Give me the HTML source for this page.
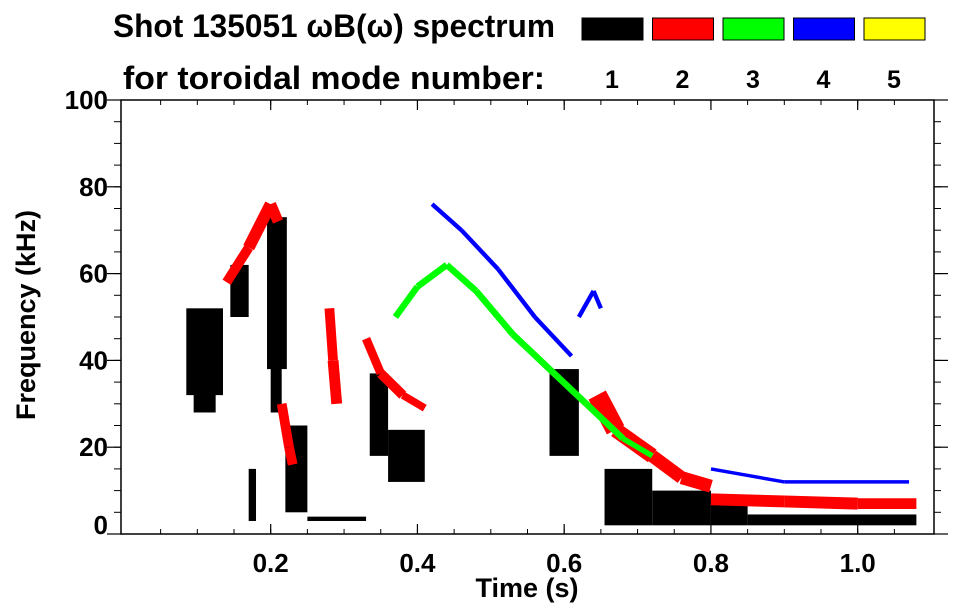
<!DOCTYPE html>
<html><head><meta charset="utf-8"><style>
body{margin:0;background:#fff;}
svg{display:block;font-family:"Liberation Sans",sans-serif;font-weight:bold;}
</style></head><body>
<svg id="c" width="963" height="615">
<text x="113" y="37" font-size="32" textLength="442" lengthAdjust="spacingAndGlyphs">Shot 135051 ωB(ω) spectrum</text>
<text x="123" y="89" font-size="32" textLength="422" lengthAdjust="spacingAndGlyphs">for toroidal mode number:</text>
<g id="legend"></g>
<g id="marks"></g>
<rect x="121" y="100" width="813" height="434" fill="none" stroke="#000" stroke-width="1.5"/>
<g id="axes"></g>
<text x="527" y="597" font-size="27" text-anchor="middle">Time (s)</text>
<text transform="translate(35,315) rotate(-90)" font-size="27" text-anchor="middle">Frequency (kHz)</text>
</svg>
<script>
const modeLabels=["1","2","3","4","5"];
const modeColors=["#000","#f00","#0f0","#00f","#ff0"];
const xTicks=[0.2,0.4,0.6,0.8,1.0];
const xTickLabels=["0.2","0.4","0.6","0.8","1.0"];
const yTicks=[0,20,40,60,80,100];
// mode-1 blobs: [t0, t1, f0, f1]
const mode1Blobs=[
 [0.085,0.135,32,52],[0.095,0.125,28,34],
 [0.145,0.17,50,62],[0.195,0.222,38,73],[0.2,0.215,28,40],
 [0.22,0.25,5,25],[0.17,0.18,3,15],[0.25,0.33,3,4],
 [0.335,0.36,18,37],[0.36,0.41,12,24],
 [0.58,0.62,18,38],
 [0.655,0.72,2,15],[0.72,0.8,2,10],[0.8,0.85,2,7],[0.85,1.08,2,4.5]
];
// tracks: [time, freq, thickness kHz]
const mode2Tracks=[
 [[0.14,58,2],[0.17,66,2.5],[0.2,76,3],[0.21,72,2]],
 [[0.215,30,2],[0.225,20,2.5],[0.23,16,2]],
 [[0.28,52,1.5],[0.285,40,3],[0.29,30,2]],
 [[0.33,45,1.5],[0.35,37,2.5],[0.38,32,2],[0.41,29,1.5]],
 [[0.645,32,5],[0.67,24,4],[0.72,18,3],[0.76,13,3],[0.8,11,3]],
 [[0.8,8,2.5],[0.9,7.5,3],[1.0,7,2.5],[1.08,7,2.5]]
];
const mode3Tracks=[
 [[0.37,50,1.5],[0.4,57,1.5],[0.44,62,1.5],[0.48,56,1.5],[0.53,46,1.5],[0.58,38,1.5],[0.63,30,1.5],[0.68,22,1.5],[0.72,18,1]]
];
const mode4Tracks=[
 [[0.42,76,1],[0.46,70,1],[0.51,61,1],[0.56,50,1],[0.61,41,1]],
 [[0.62,50,1],[0.64,56,1],[0.65,52,1]],
 [[0.8,15,0.8],[0.9,12,0.8],[1.07,12,0.8]]
];
const trackSets=[null,mode2Tracks,mode3Tracks,mode4Tracks];
const X0=121,X1=934,Y0=534,Y1=100,TMIN=-0.004,TMAX=1.104,FMIN=0,FMAX=100;
const xs=t=>X0+(t-TMIN)/(TMAX-TMIN)*(X1-X0);
const ys=f=>Y0-(f-FMIN)/(FMAX-FMIN)*(Y0-Y1);
const NS="http://www.w3.org/2000/svg";
function mk(tag,attrs,parent){const e=document.createElementNS(NS,tag);for(const k in attrs)e.setAttribute(k,attrs[k]);parent.appendChild(e);return e;}
const lg=document.getElementById('legend');
modeLabels.forEach((m,i)=>{
 const x=582+i*70.5;
 const r=mk('rect',{x:x,y:18,width:61,height:22,fill:modeColors[i],stroke:'#000','stroke-width':1},lg);
 
 
 const t=mk('text',{x:x+30,y:88,'font-size':25,'text-anchor':'middle'},lg);t.textContent=m;
 
 
});
const mg=document.getElementById('marks');
mode1Blobs.forEach(b=>{
 const r=mk('rect',{x:xs(b[0]),y:ys(b[3]),width:xs(b[1])-xs(b[0]),height:ys(b[2])-ys(b[3]),fill:'#000'},mg);
 
 
});
trackSets.forEach((tracks,mi)=>{
 if(!tracks)return;
 tracks.forEach((tr,ti)=>{
  for(let k=0;k<tr.length-1;k++){
   const a=tr[k],b=tr[k+1];
   const w=((a[2]+b[2])/2)*(Y0-Y1)/(FMAX-FMIN);
   const l=mk('line',{x1:xs(a[0]),y1:ys(a[1]),x2:xs(b[0]),y2:ys(b[1]),stroke:modeColors[mi],'stroke-width':w,'stroke-linecap':'butt'},mg);
   
   
  }
 });
});
const ax=document.getElementById('axes');
xTicks.forEach((t,i)=>{
 mk('line',{x1:xs(t),y1:Y0,x2:xs(t),y2:Y0-10,stroke:'#000','stroke-width':1.2},ax);
 mk('line',{x1:xs(t),y1:Y1,x2:xs(t),y2:Y1+10,stroke:'#000','stroke-width':1.2},ax);
 const tx=mk('text',{x:xs(t),y:572,'font-size':26,'text-anchor':'middle'},ax);tx.textContent=xTickLabels[i];
 
 
});
for(let t=0.05;t<1.1;t+=0.05){
 mk('line',{x1:xs(t),y1:Y0,x2:xs(t),y2:Y0-5,stroke:'#000'},ax);
 mk('line',{x1:xs(t),y1:Y1,x2:xs(t),y2:Y1+5,stroke:'#000'},ax);
}
yTicks.forEach(f=>{
 mk('line',{x1:X0,y1:ys(f),x2:X0-14,y2:ys(f),stroke:'#000','stroke-width':1.2},ax);
 mk('line',{x1:X1,y1:ys(f),x2:X1+14,y2:ys(f),stroke:'#000','stroke-width':1.2},ax);
 const tx=mk('text',{x:108,y:Math.min(ys(f)+9,534),'font-size':26,'text-anchor':'end'},ax);tx.textContent=f;
 
 
});
for(let f=5;f<100;f+=5){
 mk('line',{x1:X0,y1:ys(f),x2:X0-7,y2:ys(f),stroke:'#000'},ax);
 mk('line',{x1:X1,y1:ys(f),x2:X1+7,y2:ys(f),stroke:'#000'},ax);
}
</script>
</body></html>
